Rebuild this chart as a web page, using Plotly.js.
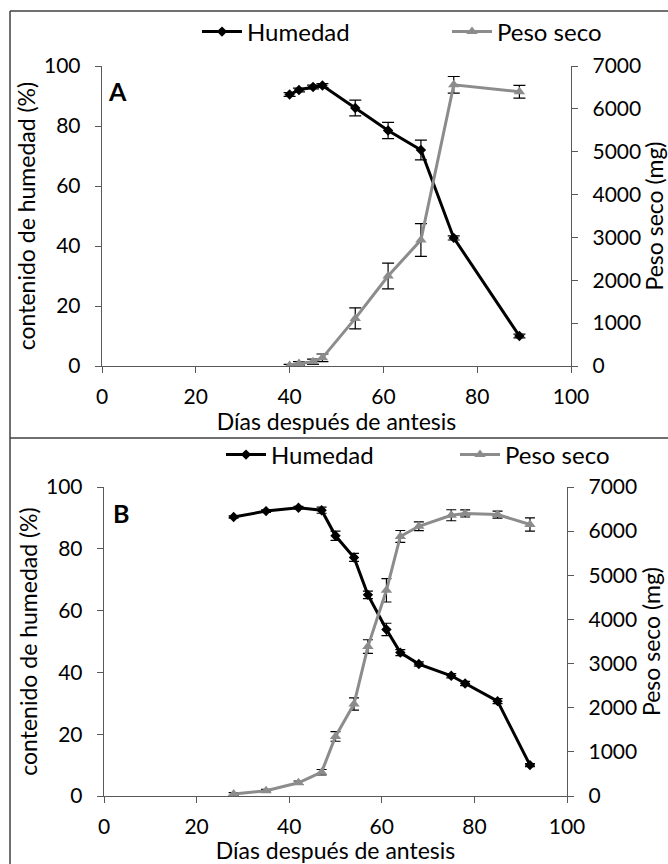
<!DOCTYPE html>
<html>
<head>
<meta charset="utf-8">
<script src="https://cdn.plot.ly/plotly-3.0.1.min.js"></script>
<style>html,body{margin:0;padding:0;background:#fff;}#chart{width:668px;height:864px;}</style>
</head>
<body>
<div id="chart"></div>
<script>
// Panel A data
const diasA = [40, 42, 45, 47, 54, 61, 68, 75, 89];
const humedadA = [90.5, 92, 93, 93.5, 86, 78.5, 72, 42.7, 10];
const humedadA_err = [0.6, 0.6, 0.6, 0.6, 2.6, 2.7, 3.3, 0.7, 0.6];
const pesoA = [10, 60, 100, 190, 1110, 2100, 2940, 6560, 6400];
const pesoA_err = [30, 40, 60, 90, 245, 300, 380, 195, 150];

// Panel B data
const diasB = [28, 35, 42, 47, 50, 54, 57, 61, 64, 68, 75, 78, 85, 92];
const humedadB = [90.3, 92.2, 93.3, 92.5, 84.2, 77.2, 65.1, 53.9, 46.4, 42.7, 38.9, 36.4, 30.7, 10];
const humedadB_err = [0.4, 0.4, 0.4, 1, 1.5, 1.3, 1.2, 2, 1, 0.7, 0.7, 0.7, 0.8, 0.5];
const pesoB = [45, 120, 300, 540, 1350, 2085, 3385, 4660, 5880, 6110, 6360, 6400, 6375, 6150];
const pesoB_err = [30, 30, 40, 60, 110, 140, 155, 265, 135, 100, 125, 80, 80, 150];

const xTicks = [0, 20, 40, 60, 80, 100];
const yTicks = [0, 20, 40, 60, 80, 100];
const y2Ticks = [0, 1000, 2000, 3000, 4000, 5000, 6000, 7000];

const xLabel = 'Días después de antesis';
const yLabel = 'contenido de humedad (%)';
const y2Label = 'Peso seco (mg)';
const nameHum = 'Humedad';
const namePeso = 'Peso seco';

const W = 668, H = 864;
const px = v => v / W;
const py = v => 1 - v / H;

const FONT = 'Lato, "Open Sans", sans-serif';
const AX = '#595959';
const GRAY = '#8c8c8c';

function humTrace(x, y, e, xa, ya, leg, ew) {
  return {
    x: x, y: y, xaxis: xa, yaxis: ya, name: nameHum, legend: leg,
    type: 'scatter', mode: 'lines+markers',
    line: {color: '#000000', width: 3},
    marker: {symbol: 'diamond', size: 8, color: '#000000'},
    error_y: {type: 'data', array: e, visible: true, color: '#000000', thickness: 1.2, width: ew}
  };
}
function pesoTrace(x, y, e, xa, ya, leg, ew) {
  return {
    x: x, y: y, xaxis: xa, yaxis: ya, name: namePeso, legend: leg,
    type: 'scatter', mode: 'lines+markers',
    line: {color: GRAY, width: 3},
    marker: {symbol: 'triangle-up', size: 10, color: GRAY},
    error_y: {type: 'data', array: e, visible: true, color: '#000000', thickness: 1.2, width: ew}
  };
}

const data = [
  humTrace(diasA, humedadA, humedadA_err, 'x', 'y', 'legend', 6),
  pesoTrace(diasA, pesoA, pesoA_err, 'x', 'y2', 'legend2', 6),
  humTrace(diasB, humedadB, humedadB_err, 'x2', 'y3', 'legend3', 5),
  pesoTrace(diasB, pesoB, pesoB_err, 'x2', 'y4', 'legend4', 5)
];

const tickFont = {family: FONT, size: 21, color: '#000'};
const titleFont = {family: FONT, size: 23, color: '#000'};

function xAxis(domain, anchor) {
  return {
    domain: domain, anchor: anchor, range: [0, 100], tickvals: xTicks,
    ticks: 'outside', ticklen: 6, tickcolor: AX, tickwidth: 1,
    showline: true, linecolor: AX, linewidth: 1.3, zeroline: false, showgrid: false,
    tickfont: tickFont, ticklabelstandoff: 5,
    title: {text: xLabel, font: titleFont, standoff: 0}
  };
}
function yAxis(domain, anchor) {
  return {
    domain: domain, anchor: anchor, range: [0, 100], tickvals: yTicks,
    ticks: 'outside', ticklen: 6, tickcolor: AX, tickwidth: 1,
    showline: true, linecolor: AX, linewidth: 1.3, zeroline: false, showgrid: false,
    tickfont: tickFont, ticklabelstandoff: 10,
    title: {text: yLabel, font: titleFont, standoff: 2}
  };
}
function y2Axis(overlay, anchor) {
  return {
    overlaying: overlay, anchor: anchor, side: 'right', range: [0, 7000], tickvals: y2Ticks,
    ticks: 'outside', ticklen: 6, tickcolor: AX, tickwidth: 1,
    showline: true, linecolor: AX, linewidth: 1.3, zeroline: false, showgrid: false,
    tickfont: tickFont, ticklabelstandoff: 10,
    title: {text: y2Label, font: titleFont, standoff: 4}
  };
}

const legendBase = {
  orientation: 'h', xref: 'paper', yref: 'paper', xanchor: 'left', yanchor: 'middle',
  font: {family: FONT, size: 24, color: '#000'}, bgcolor: 'rgba(0,0,0,0)',
  itemwidth: 40
};

const borderLine = {type: 'line', xref: 'paper', yref: 'paper', line: {color: '#404040', width: 1.5}};

const layout = {
  width: W, height: H,
  margin: {l: 0, r: 0, t: 0, b: 0},
  paper_bgcolor: '#ffffff', plot_bgcolor: '#ffffff',
  font: {family: FONT, color: '#000'},
  showlegend: true,
  xaxis: xAxis([px(102), px(571)], 'y'),
  yaxis: yAxis([py(366), py(66)], 'x'),
  yaxis2: y2Axis('y', 'x'),
  xaxis2: xAxis([px(104), px(567)], 'y3'),
  yaxis3: yAxis([py(796), py(487)], 'x2'),
  yaxis4: y2Axis('y3', 'x2'),
  legend: Object.assign({}, legendBase, {x: px(197), y: py(32)}),
  legend2: Object.assign({}, legendBase, {x: px(447), y: py(32)}),
  legend3: Object.assign({}, legendBase, {x: px(221), y: py(455)}),
  legend4: Object.assign({}, legendBase, {x: px(455), y: py(455)}),
  annotations: [
    {text: '<b>A</b>', xref: 'paper', yref: 'paper', x: px(117), y: py(91), showarrow: false,
     xanchor: 'center', yanchor: 'middle', font: {family: FONT, size: 25, color: '#000'}},
    {text: '<b>B</b>', xref: 'paper', yref: 'paper', x: px(121), y: py(513), showarrow: false,
     xanchor: 'center', yanchor: 'middle', font: {family: FONT, size: 25, color: '#000'}}
  ],
  shapes: [
    Object.assign({}, borderLine, {x0: px(10), x1: 1.01, y0: py(11), y1: py(11)}),
    Object.assign({}, borderLine, {x0: px(10), x1: px(10), y0: py(11), y1: py(438)}),
    Object.assign({}, borderLine, {x0: px(10), x1: 1.01, y0: py(438), y1: py(438)}),
    Object.assign({}, borderLine, {x0: px(10), x1: px(10), y0: py(438), y1: -0.01})
  ]
};

Plotly.newPlot('chart', data, layout, {staticPlot: true, displayModeBar: false});
</script>
</body>
</html>
